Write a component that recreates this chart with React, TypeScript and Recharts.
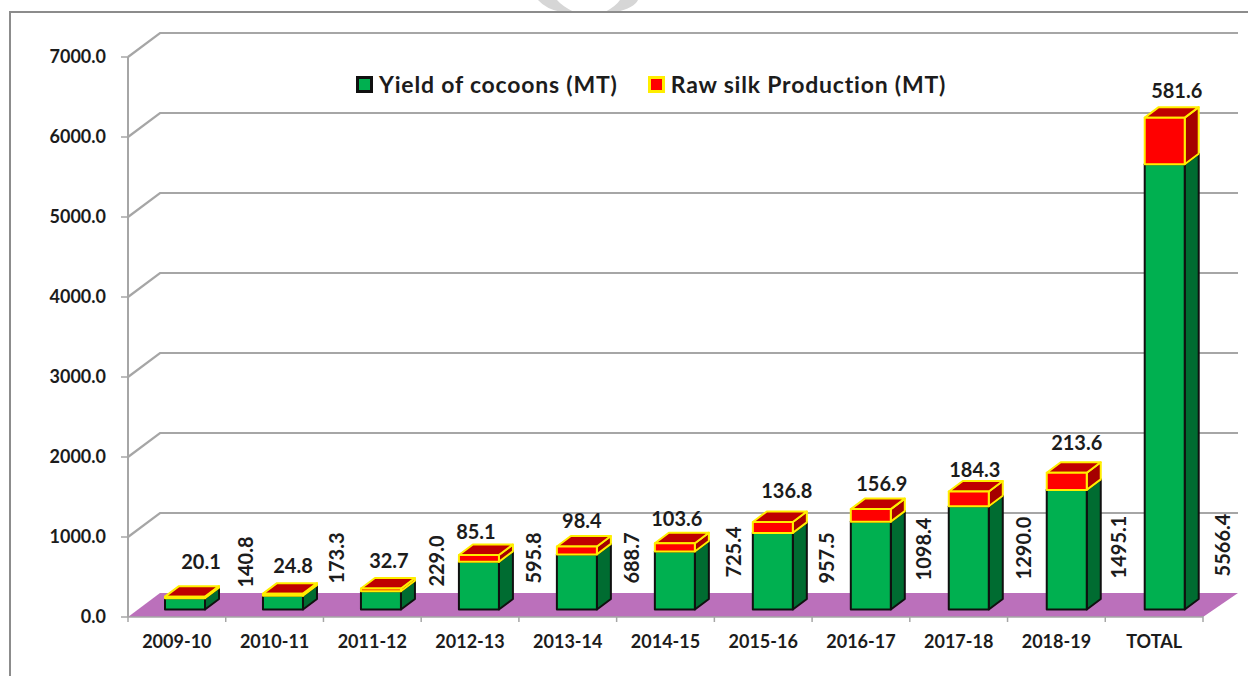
import { Bar, BarChart, CartesianGrid, LabelList, Legend, XAxis, YAxis } from 'recharts'

const categories = ['2009-10', '2010-11', '2011-12', '2012-13', '2013-14', '2014-15', '2015-16', '2016-17', '2017-18', '2018-19', 'TOTAL']
const yieldOfCocoons = [140.8, 173.3, 229.0, 595.8, 688.7, 725.4, 957.5, 1098.4, 1290.0, 1495.1, 5566.4]
const rawSilk = [20.1, 24.8, 32.7, 85.1, 98.4, 103.6, 136.8, 156.9, 184.3, 213.6, 581.6]
const yTicks = [0, 1000, 2000, 3000, 4000, 5000, 6000, 7000]

// the data labels were dragged by hand in the original, so these are nudges per bar
const yieldLabelDx = [68, 61, 64, 63, 63, 67, 63, 62, 64, 61, 68]
const yieldLabelY = [562, 558, 561, 558, 558, 552, 558, 549, 548, 547, 545]
const silkLabelDx = [16, 10, 8, -3, 5, 2, 14, 11, 6, 10, 12]
const silkLabelGap = [17, 10, 10, 6, 8, 7, 13, 8, 4, 12, 9]

const chartData = categories.map((name, i) => ({
  name,
  cocoons: yieldOfCocoons[i],
  silk: rawSilk[i],
}))

const FONT = 'Lato, sans-serif'
const TEXT = '#1c1c1c'
const GRID = '#a6a6a6'
const BAND = 1075 / 11

// wall and floor depth
const WALL_DX = 32
const WALL_DY = -24
// bar sits a little way into the floor
const BAR_DY = -7.5
const BOX_DX = 14
const BOX_DY = -10.5

// perspective pushes the bars slightly further right along the axis
const barShift = (x: number) => 8 + (x - 157) * 0.0025

function GridLine3D({ x1, x2, y1 }: any) {
  const floor = y1 > 600
  return (
    <g>
      {floor && (
        <polygon
          points={`${x1},${y1} ${x2},${y1} ${x2 + WALL_DX + 3},${y1 + WALL_DY} ${x1 + WALL_DX},${y1 + WALL_DY}`}
          fill="#bb70bb"
        />
      )}
      {!floor && (
        <polyline
          points={`${x1},${y1} ${x1 + WALL_DX},${y1 + WALL_DY} ${x2 + WALL_DX + 3},${y1 + WALL_DY}`}
          fill="none"
          stroke={GRID}
          strokeWidth={2.2}
        />
      )}
    </g>
  )
}

function makeBox(front: string, side: string, top: string, stroke: string) {
  return function Box({ x, y, width, height }: any) {
    const l = x + barShift(x)
    const r = l + width
    const t = y + BAR_DY
    const b = t + height
    return (
      <g stroke={stroke} strokeWidth={2} strokeLinejoin="round">
        <polygon points={`${r},${t} ${r + BOX_DX},${t + BOX_DY} ${r + BOX_DX},${b + BOX_DY} ${r},${b}`} fill={side} />
        <polygon points={`${l},${t} ${l + BOX_DX},${t + BOX_DY} ${r + BOX_DX},${t + BOX_DY} ${r},${t}`} fill={top} />
        <rect x={l} y={t} width={width} height={height} fill={front} />
      </g>
    )
  }
}

const CocoonBox = makeBox('#00b050', '#006c31', '#00873c', '#101010')
const SilkBox = makeBox('#ff0000', '#a50000', '#bf0000', '#ffee00')

function XTick({ x, y, payload, index }: any) {
  return (
    <g>
      <line x1={x - BAND / 2} x2={x - BAND / 2} y1={y - 9} y2={y - 3} stroke={GRID} strokeWidth={1.5} />
      {index === categories.length - 1 && (
        <line x1={x + BAND / 2} x2={x + BAND / 2} y1={y - 9} y2={y - 3} stroke={GRID} strokeWidth={1.5} />
      )}
      <text x={x} y={y + 23} textAnchor="middle" fontFamily={FONT} fontSize={18} fontWeight={700} fill={TEXT}>
        {payload.value}
      </text>
    </g>
  )
}

function CocoonLabel({ x, width, value, index }: any) {
  const cx = x + width / 2 + yieldLabelDx[index]
  const cy = yieldLabelY[index]
  return (
    <text
      x={cx}
      y={cy}
      transform={`rotate(-90 ${cx} ${cy})`}
      textAnchor="middle"
      dominantBaseline="central"
      fontFamily={FONT}
      fontSize={20}
      fontWeight={700}
      fill={TEXT}
    >
      {Number(value).toFixed(1)}
    </text>
  )
}

function SilkLabel({ x, y, width, value, index }: any) {
  return (
    <text
      x={x + width / 2 + barShift(x) + silkLabelDx[index]}
      y={y + BAR_DY + BOX_DY - silkLabelGap[index]}
      textAnchor="middle"
      fontFamily={FONT}
      fontSize={20}
      fontWeight={700}
      fill={TEXT}
    >
      {Number(value).toFixed(1)}
    </text>
  )
}

function LegendRow() {
  const swatch = (fill: string, border: string) => (
    <span
      style={{
        display: 'inline-block',
        boxSizing: 'border-box',
        width: 17,
        height: 17,
        background: fill,
        border: `3px solid ${border}`,
        marginRight: 6,
      }}
    />
  )
  return (
    <div style={{ display: 'flex', alignItems: 'center', fontFamily: FONT, fontWeight: 700, fontSize: 23, letterSpacing: 0.8, color: TEXT, whiteSpace: 'nowrap' }}>
      {swatch('#00b050', '#101010')}
      <span style={{ marginRight: 30 }}>Yield of cocoons (MT)</span>
      {swatch('#ff0000', '#ffee00')}
      <span>Raw silk Production (MT)</span>
    </div>
  )
}

export default function App() {
  return (
    <div style={{ position: 'absolute', left: 0, top: 0, width: 1248, height: 676, background: '#fff', overflow: 'hidden' }}>
      {/* bit of the page watermark showing above the frame */}
      <svg width={1248} height={14} style={{ position: 'absolute', left: 0, top: 0 }}>
        <path d="M538 0 Q546 9 561 12 L574 12 Q562 6 557 0 Z" fill="#d6d6d6" />
        <path d="M638 0 Q634 8 616 12 L605 12 Q616 6 620 0 Z" fill="#d6d6d6" />
      </svg>
      <div style={{ position: 'absolute', left: 9, top: 11, width: 1260, height: 700, border: '2px solid #8c8c8c' }} />
      <BarChart
        width={1248}
        height={676}
        data={chartData}
        margin={{ top: 57, right: 45, bottom: 0, left: 0 }}
        barSize={40}
        style={{ position: 'absolute', left: 0, top: 0 }}
      >
        <CartesianGrid vertical={false} horizontal={GridLine3D} />
        <XAxis
          dataKey="name"
          height={59}
          interval={0}
          tick={XTick}
          tickLine={false}
          axisLine={{ stroke: GRID, strokeWidth: 1.5 }}
        />
        <YAxis
          width={128}
          domain={[0, 7000]}
          ticks={yTicks}
          interval={0}
          tickFormatter={(value: number) => value.toFixed(1)}
          tick={{ fontFamily: FONT, fontSize: 18, fontWeight: 700, fill: TEXT }}
          tickLine={{ stroke: GRID, strokeWidth: 1.5 }}
          tickSize={7}
          tickMargin={15}
          axisLine={{ stroke: GRID, strokeWidth: 2 }}
        />
        <Legend
          content={LegendRow}
          layout="horizontal"
          verticalAlign="middle"
          align="center"
          wrapperStyle={{ position: 'absolute', left: 356, top: 70, width: 'auto', bottom: 'auto' }}
        />
        <Bar dataKey="cocoons" stackId="a" shape={CocoonBox} isAnimationActive={false}>
          <LabelList dataKey="cocoons" content={CocoonLabel} />
        </Bar>
        <Bar dataKey="silk" stackId="a" shape={SilkBox} isAnimationActive={false}>
          <LabelList dataKey="silk" content={SilkLabel} />
        </Bar>
      </BarChart>
    </div>
  )
}
